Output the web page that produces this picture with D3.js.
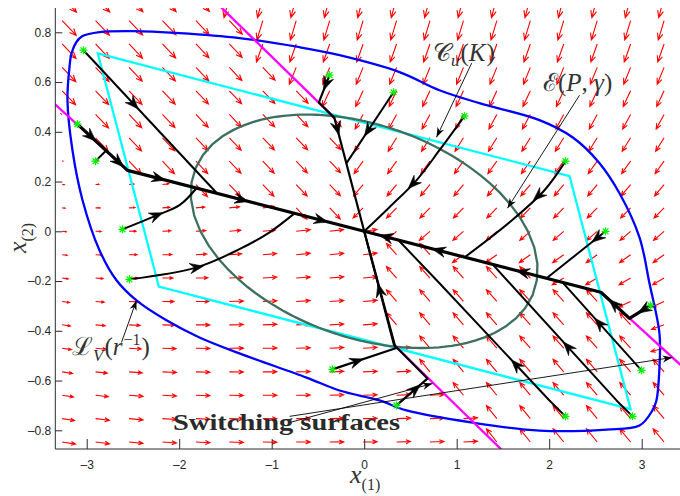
<!DOCTYPE html>
<html>
<head>
<meta charset="utf-8">
<script src="https://cdn.jsdelivr.net/npm/d3@7/dist/d3.min.js"></script>
<style>
  html, body { margin: 0; padding: 0; background: #ffffff; }
  svg { display: block; }
  .tick text { font-family: "Liberation Sans", Arial, sans-serif; font-size: 12px; fill: #262626; }
</style>
</head>
<body>
<svg id="chart" width="680" height="496"></svg>
<script>
// ---------- axis ticks ----------
const xTickValues = [-3, -2, -1, 0, 1, 2, 3];
const xTickLabels = ["\u20133", "\u20132", "\u20131", "0", "1", "2", "3"];
const yTickValues = [-0.8, -0.6, -0.4, -0.2, 0, 0.2, 0.4, 0.6, 0.8];
const yTickLabels = ["\u20130.8", "\u20130.6", "\u20130.4", "\u20130.2", "0", "0.2", "0.4", "0.6", "0.8"];

// ---------- quiver sample grid ----------
const gridX = [-3.265, -2.904, -2.542, -2.181, -1.819, -1.458, -1.096, -0.735, -0.373, -0.012,
               0.350, 0.711, 1.073, 1.434, 1.796, 2.157, 2.519, 2.880, 3.242, 3.603];
const gridY = [-0.847, -0.753, -0.659, -0.565, -0.470, -0.376, -0.282, -0.188, -0.094, 0,
               0.094, 0.188, 0.282, 0.376, 0.470, 0.565, 0.659, 0.753, 0.847, 0.941];

// ---------- surfaces splitting the state plane ----------
// P runs left to right (sorted by x), Q runs bottom to top (sorted by y)
const surfaceP = [[-3.6, 0.598], [-2.559, 0.245], [0, 0], [2.559, -0.245], [3.6, -0.598]];
const surfaceQ = [[1.70, -0.956], [0.322, -0.456], [0, 0], [-0.322, 0.456], [-1.70, 0.956]];

// switching surfaces drawn in magenta
const switchUpper = [[-1.70, 0.956], [-0.322, 0.456]];
const switchLower = [[0.322, -0.456], [1.70, -0.956]];
const switchLeft = [[-3.6, 0.598], [-2.559, 0.245]];
const switchRight = [[2.559, -0.245], [3.6, -0.598]];

// affine vector field in each cell: f = c + M (x - e)
const fieldUL = { c: [0.108, -0.0423], m: [[-0.0065, 0.027], [0.00254, -0.0106]], e: [0, 0], cap: 22 };
const fieldUR = { c: [-0.1135, -0.0362], m: [[0, 0.0595], [0, -0.0483]], e: [0, 0], cap: 22 };
const fieldLR = { c: [-0.1081, 0.0443], m: [[-0.00324, 0], [0, -0.01006]], e: [0, 0], cap: 22 };
const fieldLL = { c: [0, 0], m: [[0.0432, -0.1189], [0.00322, 0.00805]], e: [-3.45, 0.3], cap: 14 };

// ---------- level sets ----------
const levelSetV = [
  [-2.862, -0.076], [-3.045, 0.125], [-3.154, 0.326], [-3.208, 0.527], [-3.186, 0.660],
  [-3.164, 0.716], [-3.111, 0.761], [-3.045, 0.785], [-2.862, 0.801], [-2.505, 0.805],
  [-1.997, 0.797], [-1.349, 0.777], [-0.699, 0.740], [-0.267, 0.708], [0.382, 0.640],
  [0.814, 0.567], [1.246, 0.515], [1.895, 0.447], [2.252, 0.378], [2.544, 0.274],
  [2.760, 0.153], [2.976, -0.024], [3.084, -0.209], [3.192, -0.410], [3.192, -0.547],
  [3.159, -0.680], [3.116, -0.720], [2.976, -0.781], [2.619, -0.797], [1.895, -0.801],
  [1.171, -0.769], [0.457, -0.720], [0.165, -0.680], [-0.267, -0.640], [-0.624, -0.588],
  [-1.349, -0.491], [-1.781, -0.427], [-2.138, -0.358], [-2.462, -0.278], [-2.678, -0.197]
];
const regionCu = [[-2.88, 0.715], [2.22, 0.222], [2.88, -0.715], [-2.22, -0.222]];
const ellipseP = [[0.319, 0.420], [0.420, 5.096]];
const ellipseGamma = 1;

// ---------- trajectories (start point first) ----------
const trajS1 = [[-3.035, 0.728], [-1.597, 0.155]];
const trajS2 = [[-3.100, 0.431], [-2.559, 0.245], [0, 0]];
const trajS3 = [[-2.905, 0.282], [-2.797, 0.322]];
const trajS4 = [[-2.613, 0.008], [-2.245, 0.064], [-1.997, 0.105], [-1.813, 0.173]];
const trajS5 = [[-2.538, -0.193], [-1.811, -0.145], [-1.349, -0.072], [-1.023, -0.004], [-0.754, 0.072]];
const trajS6 = [[-0.375, 0.628], [-0.490, 0.518], [-0.322, 0.456], [0, 0]];
const trajS7 = [[0.317, 0.559], [-0.191, 0.274]];
const trajS8 = [[1.084, 0.463], [0.814, 0.326], [0.565, 0.205], [0.273, 0.097], [0, 0]];
const trajS9 = [[2.176, 0.282], [1.949, 0.165], [1.571, 0.036], [1.084, -0.105]];
const trajS10 = [[2.609, 0], [1.971, -0.189]];
const trajS11 = [[3.095, -0.298], [2.868, -0.350], [2.559, -0.245], [0, 0]];
const trajS12 = [[2.176, -0.744], [2.003, -0.680], [0.814, -0.209], [0.371, -0.036]];
const trajS13 = [[2.901, -0.744], [2.728, -0.680], [1.398, -0.137]];
const trajS14 = [[-0.343, -0.555], [0.340, -0.470], [0, 0]];
const trajS15 = [[0.349, -0.700], [0.684, -0.592], [0.322, -0.456], [0, 0]];
const trajS16 = [[2.998, -0.559], [2.144, -0.205]];

// direction markers along the trajectories
const arrowsS1 = [[-2.483, 0.515]];
const arrowsS2 = [[-2.970, 0.374], [-2.667, 0.274], [-2.213, 0.225], [-1.316, 0.137], [-0.462, 0.052]];
const arrowsS4 = [[-2.245, 0.064]];
const arrowsS5 = [[-1.811, -0.145]];
const arrowsS6 = [[-0.429, 0.596], [-0.289, 0.414]];
const arrowsS7 = [[0.090, 0.394]];
const arrowsS8 = [[0.522, 0.193]];
const arrowsS9 = [[1.895, 0.137]];
const arrowsS10 = [[2.522, -0.028]];
const arrowsS11 = [[3.030, -0.318], [2.706, -0.290], [1.711, -0.165], [0.814, -0.064], [0.241, -0.016]];
const arrowsS12 = [[1.658, -0.531]];
const arrowsS13 = [[2.198, -0.467]];
const arrowsS14 = [[-0.072, -0.531]];
const arrowsS15 = [[0.489, -0.608], [0.165, -0.237]];
const arrowsS16 = [[2.544, -0.370]];

// ---------- annotation leaders ----------
const leaderCu = [[1.162, 0.676], [0.782, 0.378]];
const leaderE = [[2.328, 0.547], [1.549, 0.093]];
const leaderLV = [[-2.624, -0.447], [-2.462, -0.278]];
const leaderSw1 = [[-0.807, -0.769], [0.738, -0.612]];
const leaderSw2 = [[-0.807, -0.744], [3.333, -0.507]];

// =====================================================================
const plotLeft = 55.3, plotRight = 680, plotTop = 8, plotBottom = 449;
const X0 = d3.scaleLinear().domain([-3, 3]).range([86.7, 641.7]);
const Y0 = d3.scaleLinear().domain([-0.8, 0.8]).range([430.3, 32.3]);
const X = d3.scaleLinear().domain([X0.invert(plotLeft), X0.invert(plotRight)]).range([plotLeft, plotRight]);
const Y = d3.scaleLinear().domain([Y0.invert(plotBottom), Y0.invert(plotTop)]).range([plotBottom, plotTop]);

const svg = d3.select("#chart");
svg.append("rect").attr("width", 680).attr("height", 496).attr("fill", "#fff");
svg.append("clipPath").attr("id", "plotclip").append("rect")
  .attr("x", plotLeft).attr("y", plotTop)
  .attr("width", plotRight - plotLeft).attr("height", plotBottom - plotTop);
const plot = svg.append("g").attr("clip-path", "url(#plotclip)");

function yOnP(x) {
  const p = surfaceP;
  for (let i = 0; i < p.length - 1; i++) {
    if (x <= p[i + 1][0] || i === p.length - 2) {
      const t = (x - p[i][0]) / (p[i + 1][0] - p[i][0]);
      return p[i][1] + t * (p[i + 1][1] - p[i][1]);
    }
  }
}
function xOnQ(y) {
  const q = surfaceQ;
  for (let i = 0; i < q.length - 1; i++) {
    if (y <= q[i + 1][1] || i === q.length - 2) {
      const t = (y - q[i][1]) / (q[i + 1][1] - q[i][1]);
      return q[i][0] + t * (q[i + 1][0] - q[i][0]);
    }
  }
}
function fieldAt(x, y) {
  const above = y > yOnP(x);
  const left = x < xOnQ(y);
  if (above) return left ? fieldUL : fieldUR;
  return left ? fieldLL : fieldLR;
}

// ---------- quiver ----------
const quiver = plot.append("g").attr("fill", "none").attr("stroke", "#ff0000").attr("stroke-width", 1.1);
gridY.forEach(gy => gridX.forEach(gx => {
  const f = fieldAt(gx, gy);
  const dx = gx - f.e[0], dy = gy - f.e[1];
  const u = f.c[0] + f.m[0][0] * dx + f.m[0][1] * dy;
  const v = f.c[1] + f.m[1][0] * dx + f.m[1][1] * dy;
  const x0 = X(gx), y0 = Y(gy);
  let px = X(gx + u) - x0, py = Y(gy + v) - y0;
  let L = Math.hypot(px, py);
  if (L > f.cap) { px *= f.cap / L; py *= f.cap / L; L = f.cap; }
  if (L < 0.4) return;
  const hx = x0 + px, hy = y0 + py;
  const ux = px / L, uy = py / L;
  const back = 0.33 * L, side = 0.14 * L;
  const b1x = hx - back * ux - side * uy, b1y = hy - back * uy + side * ux;
  const b2x = hx - back * ux + side * uy, b2y = hy - back * uy - side * ux;
  quiver.append("path").attr("d",
    `M${x0},${y0}L${hx},${hy}M${b1x},${b1y}L${hx},${hy}L${b2x},${b2y}`);
}));

const lineLin = d3.line().x(d => X(d[0])).y(d => Y(d[1]));
const lineSmooth = d3.line().x(d => X(d[0])).y(d => Y(d[1])).curve(d3.curveCatmullRom.alpha(0.5));

// ---------- level set of V ----------
plot.append("path").datum(levelSetV)
  .attr("d", d3.line().x(d => X(d[0])).y(d => Y(d[1])).curve(d3.curveCatmullRomClosed.alpha(0.5)))
  .attr("fill", "none").attr("stroke", "#0000ff").attr("stroke-width", 2.3);

// ---------- polyhedral set ----------
plot.append("path").datum(regionCu)
  .attr("d", d3.line().x(d => X(d[0])).y(d => Y(d[1])).curve(d3.curveLinearClosed))
  .attr("fill", "none").attr("stroke", "#00ffff").attr("stroke-width", 2.3);

// ---------- ellipsoid x'Px = gamma ----------
const ellPts = d3.range(0, 361, 2).map(deg => {
  const t = deg * Math.PI / 180, c = Math.cos(t), s = Math.sin(t);
  const q = ellipseP[0][0] * c * c + 2 * ellipseP[0][1] * c * s + ellipseP[1][1] * s * s;
  const r = Math.sqrt(ellipseGamma / q);
  return [r * c, r * s];
});
plot.append("path").datum(ellPts).attr("d", lineLin)
  .attr("fill", "none").attr("stroke", "#3d705e").attr("stroke-width", 2.3);

// ---------- switching surfaces ----------
[switchUpper, switchLower, switchLeft, switchRight].forEach(seg => {
  plot.append("path").datum(seg).attr("d", lineLin)
    .attr("fill", "none").attr("stroke", "#ff00ff").attr("stroke-width", 2.3);
});

// ---------- trajectories ----------
const trajectories = [
  { pts: trajS1, arrows: arrowsS1, w: 2, smooth: false },
  { pts: trajS3, arrows: [], w: 2, smooth: false },
  { pts: trajS4, arrows: arrowsS4, w: 2, smooth: true },
  { pts: trajS5, arrows: arrowsS5, w: 2, smooth: true },
  { pts: trajS6, arrows: arrowsS6, w: 2.2, smooth: false },
  { pts: trajS7, arrows: arrowsS7, w: 2, smooth: false },
  { pts: trajS8, arrows: arrowsS8, w: 2, smooth: true },
  { pts: trajS9, arrows: arrowsS9, w: 2, smooth: true },
  { pts: trajS10, arrows: arrowsS10, w: 2, smooth: false },
  { pts: trajS12, arrows: arrowsS12, w: 2, smooth: false },
  { pts: trajS13, arrows: arrowsS13, w: 2, smooth: false },
  { pts: trajS16, arrows: arrowsS16, w: 2, smooth: false },
  { pts: trajS14, arrows: arrowsS14, w: 2.2, smooth: false },
  { pts: trajS15, arrows: arrowsS15, w: 2.2, smooth: false },
  { pts: trajS2, arrows: arrowsS2, w: 3.2, smooth: false },
  { pts: trajS11, arrows: arrowsS11, w: 3.2, smooth: false }
];

const trajLayer = plot.append("g");
trajectories.forEach(tr => {
  trajLayer.append("path").datum(tr.pts)
    .attr("d", tr.smooth ? lineSmooth : lineLin)
    .attr("fill", "none").attr("stroke", "#000").attr("stroke-width", tr.w)
    .attr("stroke-linejoin", "round");
});

// arrowhead placed on the nearest segment of a polyline, pointing along it
function placeHead(layer, pts, at, len, half, notch) {
  const pp = pts.map(d => [X(d[0]), Y(d[1])]);
  const p = [X(at[0]), Y(at[1])];
  let best = null;
  for (let i = 0; i < pp.length - 1; i++) {
    const a = pp[i], b = pp[i + 1];
    const vx = b[0] - a[0], vy = b[1] - a[1];
    const l2 = vx * vx + vy * vy;
    let t = ((p[0] - a[0]) * vx + (p[1] - a[1]) * vy) / l2;
    t = Math.max(0, Math.min(1, t));
    const qx = a[0] + t * vx, qy = a[1] + t * vy;
    const dist = Math.hypot(p[0] - qx, p[1] - qy);
    if (!best || dist < best.dist) best = { dist, qx, qy, ang: Math.atan2(vy, vx) };
  }
  const tipX = best.qx + Math.cos(best.ang) * len * 0.5;
  const tipY = best.qy + Math.sin(best.ang) * len * 0.5;
  layer.append("path")
    .attr("d", `M0,0L${-len},${-half}L${-notch},0L${-len},${half}Z`)
    .attr("transform", `translate(${tipX},${tipY}) rotate(${best.ang * 180 / Math.PI})`)
    .attr("fill", "#000").attr("stroke", "#000").attr("stroke-width", 0.6)
    .attr("stroke-linejoin", "miter");
}
trajectories.forEach(tr => tr.arrows.forEach(a => placeHead(trajLayer, tr.pts, a, 13.5, 5.2, 8.8)));

// ---------- initial states ----------
const starLayer = plot.append("g").attr("stroke", "#00f000").attr("stroke-width", 1.2).attr("fill", "none");
trajectories.forEach(tr => {
  const s = tr.pts[0];
  starLayer.append("path")
    .attr("transform", `translate(${X(s[0])},${Y(s[1])})`)
    .attr("d", "M-4,0H4M0,-4V4M-2.9,-2.9L2.9,2.9M-2.9,2.9L2.9,-2.9");
});

// ---------- annotation leaders ----------
const annLayer = svg.append("g");
[leaderCu, leaderE, leaderLV, leaderSw1, leaderSw2].forEach(ld => {
  annLayer.append("path").datum(ld).attr("d", lineLin)
    .attr("fill", "none").attr("stroke", "#000").attr("stroke-width", 0.9);
  const a = ld[0], b = ld[1];
  // head sits at the end point
  const ang = Math.atan2(Y(b[1]) - Y(a[1]), X(b[0]) - X(a[0]));
  annLayer.append("path")
    .attr("d", "M0,0L-10,-3.6L-7,0L-10,3.6Z")
    .attr("transform", `translate(${X(b[0])},${Y(b[1])}) rotate(${ang * 180 / Math.PI})`)
    .attr("fill", "#000");
});

// ---------- axes ----------
const axisColor = "#2b2b2b";
const xAxis = d3.axisBottom(X).tickValues(xTickValues)
  .tickFormat((d, i) => xTickLabels[i]).tickSize(-10).tickPadding(11);
const gx = svg.append("g").attr("transform", `translate(0,${plotBottom})`).call(xAxis);
gx.select(".domain").remove();
gx.selectAll(".tick line").attr("stroke", axisColor);

const yAxis = d3.axisLeft(Y).tickValues(yTickValues)
  .tickFormat((d, i) => yTickLabels[i]).tickSize(-7).tickPadding(4);
const gy = svg.append("g").attr("transform", `translate(${plotLeft},0)`).call(yAxis);
gy.select(".domain").remove();
gy.selectAll(".tick line").attr("stroke", axisColor);

svg.append("path")
  .attr("d", `M${plotLeft},${plotTop}V${plotBottom}H${plotRight}`)
  .attr("fill", "none").attr("stroke", axisColor).attr("stroke-width", 1);

// ---------- text ----------
const mathFont = "'Liberation Serif', 'DejaVu Serif', serif";
const textColor = "#333";
function richText(x, y, parts, extra, size) {
  const t = svg.append("text").attr("x", x).attr("y", y)
    .attr("font-family", mathFont).attr("font-size", size || 24).attr("fill", textColor);
  if (extra) extra(t);
  parts.forEach(p => {
    const s = t.append("tspan").text(p.t);
    if (p.i) s.attr("font-style", "italic");
    if (p.size) s.attr("font-size", p.size);
    if (p.dy) s.attr("dy", p.dy);
    if (p.dx) s.attr("dx", p.dx);
  });
  return t;
}

richText(433, 61, [
  { t: "\uD835\uDC9E" },
  { t: "u", i: true, size: 17, dy: 5 },
  { t: "(", dy: -5, dx: 1 },
  { t: "K", i: true },
  { t: ")", dx: 1 }
], null, 25);

richText(543, 91, [
  { t: "\u2130" },
  { t: "(" },
  { t: "P", i: true },
  { t: ", " },
  { t: "\u03B3", i: true },
  { t: ")" }
], null, 25);

richText(72, 355, [
  { t: "\u2112" },
  { t: "V", i: true, size: 17, dy: 6 },
  { t: "(", dy: -6, dx: 1 },
  { t: "r", i: true },
  { t: "\u22121", size: 16, dy: -10, dx: 1 },
  { t: ")", dy: 10, dx: 1 }
], null, 25);

svg.append("text").attr("x", 173).attr("y", 430)
  .attr("font-family", mathFont).attr("font-weight", "bold").attr("font-size", 23)
  .attr("fill", "#2a2a2a").attr("textLength", 227).attr("lengthAdjust", "spacingAndGlyphs")
  .text("Switching surfaces");

richText(350, 483, [
  { t: "x", i: true },
  { t: "(1)", size: 16, dy: 7 }
], null, 26);

richText(0, 0, [
  { t: "x", i: true },
  { t: "(2)", size: 16, dy: 7 }
], t => t.attr("transform", "translate(26,253) rotate(-90)"), 26);
</script>
</body>
</html>
